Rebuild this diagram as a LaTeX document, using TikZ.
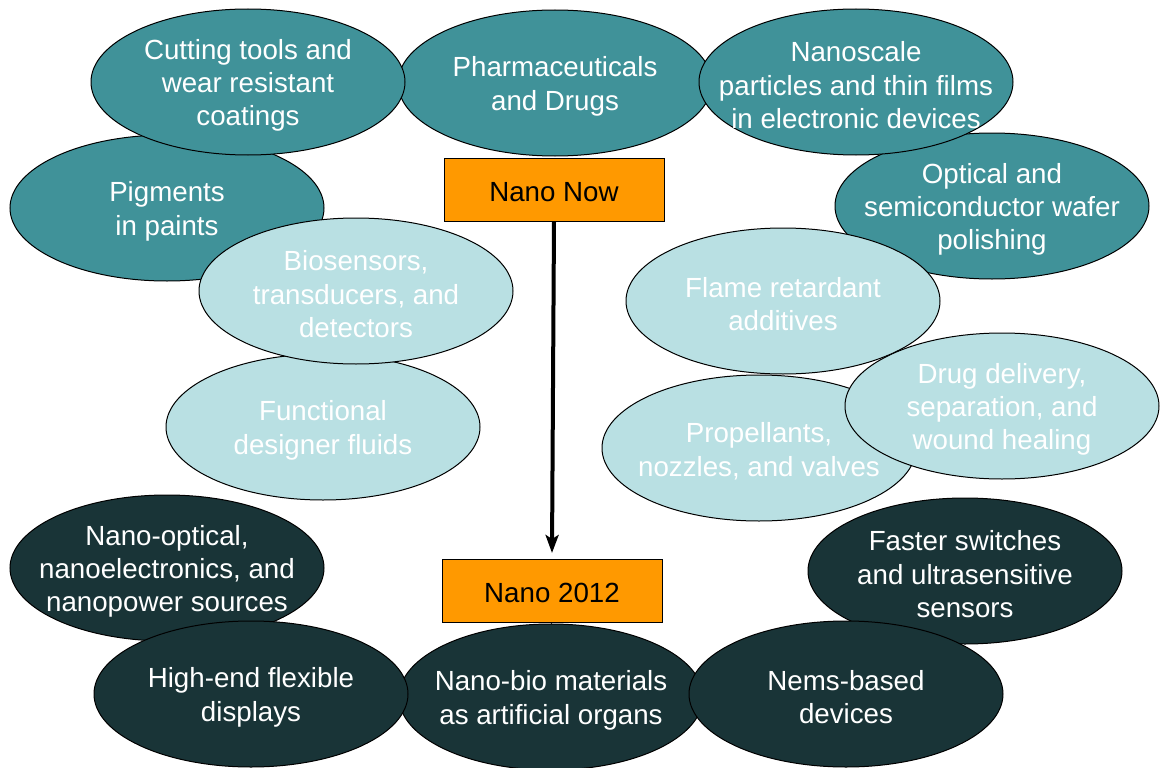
\documentclass[tikz,border=0pt]{standalone}
\usepackage{fontspec}
\setmainfont{Liberation Sans}
\usetikzlibrary{shapes.geometric,arrows.meta}
\definecolor{tealmid}{HTML}{409299}
\definecolor{teallight}{HTML}{B9E0E3}
\definecolor{tealdark}{HTML}{193437}
\definecolor{boxorange}{HTML}{FF9900}
\begin{document}
\begin{tikzpicture}[x=1pt,y=-1pt,
  blob/.style={ellipse, draw=black, line width=1pt, inner sep=0pt,
    minimum width=314pt, minimum height=146pt},
  now/.style={blob, fill=tealmid},
  soon/.style={blob, fill=teallight},
  later/.style={blob, fill=tealdark},
  label/.style={align=center, text=white, inner sep=0pt, yshift=-3.3pt,
    font=\fontsize{27.7}{33.3}\selectfont},
  stage/.style={rectangle, draw=black, line width=1pt, fill=boxorange,
    minimum width=220pt, minimum height=63pt, inner sep=0pt,
    text height=23pt, text depth=0pt,
    font=\fontsize{27.7}{33.3}\selectfont}]
\useasboundingbox (0,0) rectangle (1160,768);

% current applications, back to front
\node[now] (pharm) at (555,83) {};
\node[label] at (pharm) {Pharmaceuticals\\and Drugs};
\node[now] (pigm) at (167,208) {};
\node[label] at (pigm) {Pigments\\in paints};
\node[now] (cut) at (248,82) {};
\node[label] at (cut) {Cutting tools and\\wear resistant\\coatings};
\node[soon] (fluid) at (323,427) {};
\node[label] at (fluid) {Functional\\designer fluids};
\node[soon] (bios) at (356,291) {};
\node[label] at (bios) {Biosensors,\\transducers, and\\detectors};
\node[now] (polish) at (992,206) {};
\node[label] at (polish) {Optical and\\semiconductor wafer\\polishing};
\node[now] (films) at (856,82) {};
\node[label] at (films) {Nanoscale\\particles and thin films\\in electronic devices};
\node[soon] (prop) at (759,448) {};
\node[label] at (prop) {Propellants,\\nozzles, and valves};
\node[soon] (drug) at (1002,406) {};
\node[label] at (drug) {Drug delivery,\\separation, and\\wound healing};
\node[soon] (flame) at (783,301) {};
\node[label] at (flame) {Flame retardant\\additives};

% applications by 2012
\node[later] (optel) at (167,568) {};
\node[label] at (optel) {Nano-optical,\\nanoelectronics, and\\nanopower sources};
\node[later] (switch) at (965,571) {};
\node[label] at (switch) {Faster switches\\and ultrasensitive\\sensors};
\node[later, minimum width=304pt] (organs) at (551,697) {};
\node[label] at (organs) {Nano-bio materials\\as artificial organs};
\node[later] (displ) at (251,694) {};
\node[label] at (displ) {High-end flexible\\displays};
\node[later] (nems) at (846,694) {};
\node[label] at (nems) {Nems-based\\devices};

% timeline
\node[stage] (nnow) at (554,189.5) {Nano Now};
\node[stage] (n2012) at (552,591) {Nano 2012};
\draw[line width=4pt, -{Stealth[length=18pt,width=13pt,inset=4pt]}]
  (nnow.south) -- ([yshift=6pt]n2012.north);
\draw[line width=0.8pt] (n2012.south) -- (organs.north);
\end{tikzpicture}
\end{document}
